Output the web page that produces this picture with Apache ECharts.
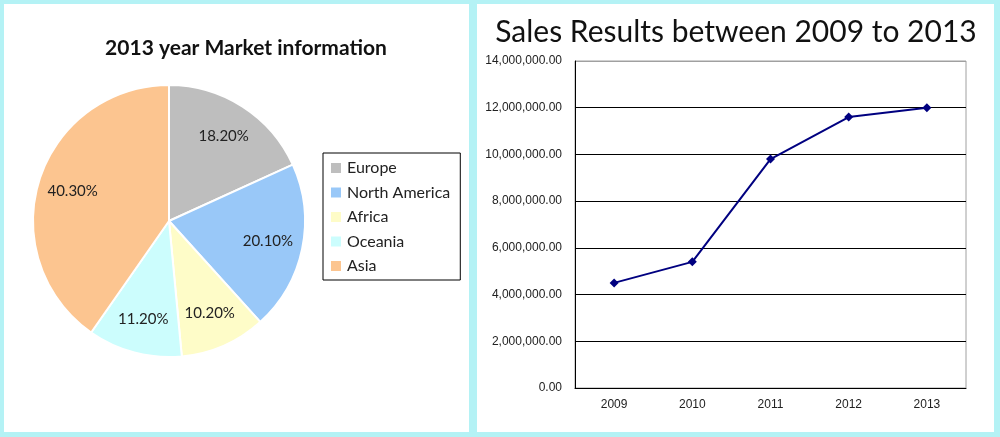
<!DOCTYPE html>
<html>
<head>
<meta charset="utf-8">
<script src="https://cdn.jsdelivr.net/npm/echarts@6/dist/echarts.min.js"></script>
<style>
html,body{margin:0;padding:0;background:#b4f2f5;}
#c{width:1000px;height:437px;}
</style>
</head>
<body>
<div id="c"></div>
<script>
// Pie data: 2013 market shares (%)
const regions = ['Europe', 'North America', 'Africa', 'Oceania', 'Asia'];
const shares = [18.2, 20.1, 10.2, 11.2, 40.3];
const regionColors = ['#bebebe', '#99c8f8', '#fefcc8', '#ccfdfd', '#fcc590'];

// Line data: yearly sales
const years = ['2009', '2010', '2011', '2012', '2013'];
const sales = [4500000, 5400000, 9800000, 11600000, 12000000];

const font = 'Lato, "Open Sans", sans-serif';
const chart = echarts.init(document.getElementById('c'), null, {renderer: 'canvas'});

const pieData = regions.map((n, i) => ({name: n, value: shares[i], itemStyle: {color: regionColors[i]}}));

chart.setOption({
  backgroundColor: '#b4f2f5',
  animation: false,
  graphic: [
    {type: 'rect', z: -10, silent: true, shape: {x: 4, y: 4, width: 465, height: 428}, style: {fill: '#ffffff'}},
    {type: 'rect', z: -10, silent: true, shape: {x: 477, y: 4, width: 517, height: 428}, style: {fill: '#ffffff'}}
  ],
  title: [
    {text: '2013 year Market information', left: 241, top: 33, textAlign: 'center',
     textStyle: {fontFamily: font, fontWeight: 'bold', fontSize: 21, color: '#111'}},
    {text: 'Sales Results between 2009 to 2013', left: 731, top: 12, textAlign: 'center',
     textStyle: {fontFamily: font, fontWeight: 'normal', fontSize: 30, color: '#111'}}
  ],
  legend: {
    orient: 'vertical', left: 323, top: 153,
    data: regions,
    icon: 'rect', itemWidth: 12, itemHeight: 12, itemGap: 8.5,
    padding: [7, 10, 6, 6],
    borderColor: '#000', borderWidth: 1,
    textStyle: {fontFamily: font, fontSize: 16, color: '#222', lineHeight: 16}
  },
  grid: {left: 575, right: 34, top: 61, bottom: 49, show: true, borderColor: '#a0a0a0', borderWidth: 1, backgroundColor: 'transparent'},
  xAxis: {
    type: 'category', data: years, boundaryGap: true,
    axisLine: {lineStyle: {color: '#000', width: 1}},
    axisTick: {inside: true, length: 5, lineStyle: {color: '#000'}},
    axisLabel: {fontFamily: '"Liberation Sans", sans-serif', fontSize: 12, color: '#222', margin: 11}
  },
  yAxis: {
    type: 'value', min: 0, max: 14000000, interval: 2000000,
    axisLine: {show: true, lineStyle: {color: '#000'}},
    axisTick: {show: false},
    splitLine: {lineStyle: {color: ['#000', '#000', '#000', '#000', '#000', '#000', '#000', '#a0a0a0'], width: 1}},
    axisLabel: {fontFamily: '"Liberation Sans", sans-serif', fontSize: 12, color: '#222', margin: 13,
      formatter: v => v.toLocaleString('en-US', {minimumFractionDigits: 2, maximumFractionDigits: 2})}
  },
  series: [
    {
      type: 'pie', name: 'market', center: [169, 221], radius: [0, 136],
      startAngle: 90, clockwise: true, silent: true,
      data: pieData,
      itemStyle: {borderColor: '#fff', borderWidth: 2},
      label: {show: false}, labelLine: {show: false}
    },
    {
      type: 'pie', name: 'labels', center: [169, 221], radius: [0, 196],
      startAngle: 90, clockwise: true, silent: true,
      data: regions.map((n, i) => ({name: n, value: shares[i]})),
      itemStyle: {color: 'rgba(0,0,0,0)', borderWidth: 0},
      label: {show: true, position: 'inside', fontFamily: font, fontSize: 15, color: '#222',
        formatter: p => p.value.toFixed(2) + '%'},
      labelLine: {show: false}
    },
    {
      type: 'line', data: sales, symbol: 'diamond', symbolSize: 9,
      lineStyle: {color: '#000080', width: 2},
      itemStyle: {color: '#000080'}
    }
  ]
});
</script>
</body>
</html>
